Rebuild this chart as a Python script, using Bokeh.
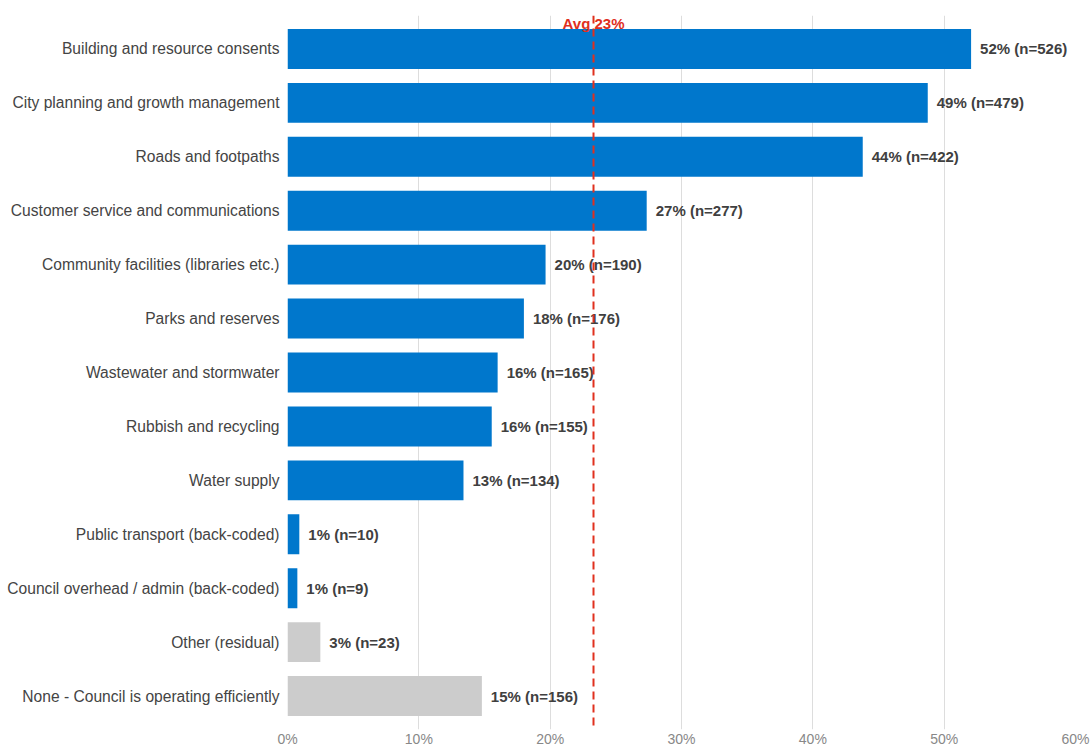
from bokeh.plotting import figure
from bokeh.models import ColumnDataSource, Span, Label, NumeralTickFormatter, FixedTicker, FactorRange
from bokeh.core.properties import value
from bokeh.embed import file_html
from bokeh.resources import INLINE

categories = [
    "Building and resource consents",
    "City planning and growth management",
    "Roads and footpaths",
    "Customer service and communications",
    "Community facilities (libraries etc.)",
    "Parks and reserves",
    "Wastewater and stormwater",
    "Rubbish and recycling",
    "Water supply",
    "Public transport (back-coded)",
    "Council overhead / admin (back-coded)",
    "Other (residual)",
    "None - Council is operating efficiently",
]
pct = [52.05, 48.75, 43.8, 27.35, 19.65, 18.0, 16.0, 15.55, 13.4, 0.9, 0.75, 2.5, 14.8]
n_values = [526, 479, 422, 277, 190, 176, 165, 155, 134, 10, 9, 23, 156]
label_pct = [52, 49, 44, 27, 20, 18, 16, 16, 13, 1, 1, 3, 15]
is_residual = [False] * 11 + [True, True]
average = 23.3
ticks = [0, 10, 20, 30, 40, 50, 60]

BLUE = "#0077cc"
GREY = "#cccccc"

labels = [f"{p}% (n={n})" for p, n in zip(label_pct, n_values)]
colors = [GREY if r else BLUE for r in is_residual]

src = ColumnDataSource(dict(cat=categories, pct=pct, lab=labels, col=colors))

p = figure(
    width=1091, height=749,
    y_range=FactorRange(factors=list(reversed(categories)), range_padding=0.12,
                        range_padding_units="absolute"),
    x_range=(0, 60),
    output_backend="svg", toolbar_location=None,
    min_border_left=287, min_border_right=16, min_border_top=15, min_border_bottom=17,
)
p.outline_line_color = None
p.hbar(y="cat", right="pct", left=0, height=0.74, color="col", source=src, line_color=None)
p.text(x="pct", y="cat", text="lab", source=src, x_offset=9, text_baseline="middle",
       text_align="left", text_font=value("Liberation Sans"), text_font_style="bold",
       text_font_size="15px", text_color="#404040")

p.add_layout(Span(location=average, dimension="height", line_color="#e0301e",
                  line_dash="8 5", line_width=2))
p.add_layout(Label(x=average, y=len(categories), y_offset=-2, text="Avg 23%",
                   text_align="center", text_baseline="alphabetic", text_color="#e0301e",
                   text_font="Liberation Sans", text_font_style="bold", text_font_size="15px"))

p.xaxis.ticker = FixedTicker(ticks=ticks)
p.xaxis.formatter = NumeralTickFormatter(format="0")
p.xaxis.major_label_overrides = {t: f"{t}%" for t in ticks}
p.xaxis.axis_line_color = None
p.xaxis.major_tick_line_color = None
p.xaxis.major_tick_out = 0
p.xaxis.major_tick_in = 0
p.xaxis.minor_tick_line_color = None
p.xaxis.major_label_text_font = "Liberation Sans"
p.xaxis.major_label_text_font_size = "14px"
p.xaxis.major_label_text_color = "#888888"
p.xaxis.major_label_standoff = 1

p.yaxis.axis_line_color = None
p.yaxis.major_tick_line_color = None
p.yaxis.major_tick_out = 0
p.yaxis.major_tick_in = 0
p.yaxis.minor_tick_line_color = None
p.yaxis.major_label_text_font = "Liberation Sans"
p.yaxis.major_label_text_font_size = "15.6px"
p.yaxis.major_label_text_color = "#444444"
p.yaxis.major_label_standoff = 8

p.ygrid.grid_line_color = None
p.xgrid.grid_line_color = "#dddddd"
p.xgrid.grid_line_width = 1

open("out.html", "w").write(file_html(p, INLINE))
